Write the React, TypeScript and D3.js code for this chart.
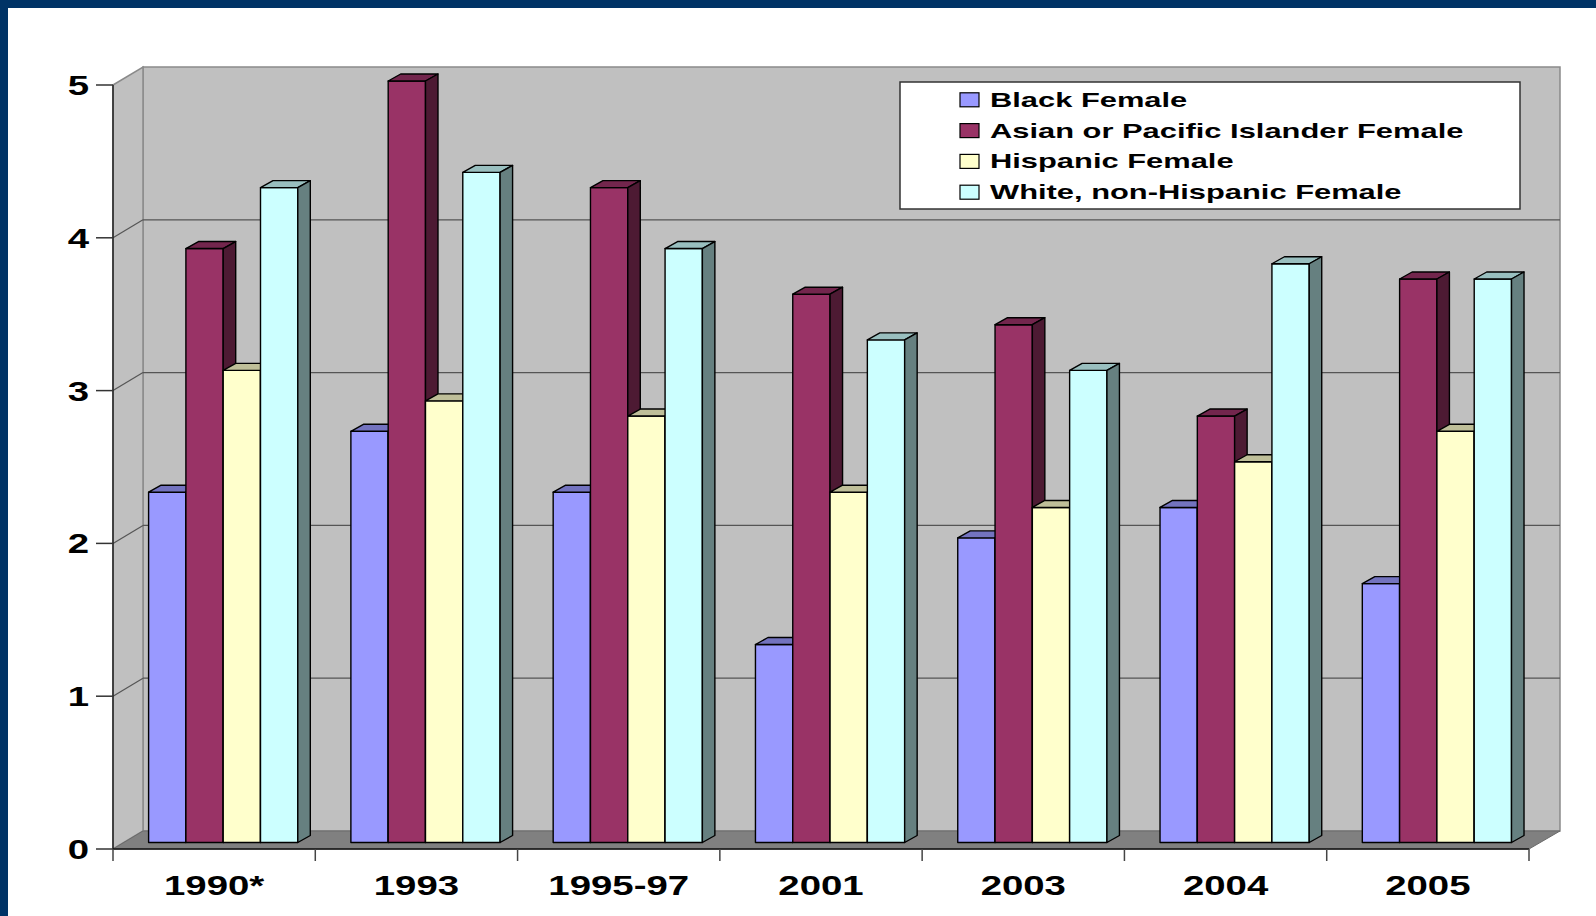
import React from 'react';
import * as d3 from 'd3';

const categories = ['1990*', '1993', '1995-97', '2001', '2003', '2004', '2005'];
const seriesNames = [
  'Black Female',
  'Asian or Pacific Islander Female',
  'Hispanic Female',
  'White, non-Hispanic Female'
];
const blackFemale = [2.3, 2.7, 2.3, 1.3, 2.0, 2.2, 1.7];
const asianFemale = [3.9, 5.0, 4.3, 3.6, 3.4, 2.8, 3.7];
const hispanicFemale = [3.1, 2.9, 2.8, 2.3, 2.2, 2.5, 2.7];
const whiteFemale = [4.3, 4.4, 3.9, 3.3, 3.1, 3.8, 3.7];
const yTicks = [0, 1, 2, 3, 4, 5];

const seriesValues = [blackFemale, asianFemale, hispanicFemale, whiteFemale];
const faceColors = ['#9999FF', '#993366', '#FFFFCC', '#CCFFFF'];

const W = 1596;
const H = 916;
const FONT = '"Liberation Sans", Arial, sans-serif';
const SX = 1.37; // text in the original is stretched horizontally

// plot box (front plane) and wall depth
const left = 113;
const right = 1529;
const floorY = 849;
const topY = 85;
const depthX = 30;
const depthY = -18;
// bars stand a little behind the front plane
const barBase = 842.5;
const barTopAt5 = 81;
const barDx = 12.5;
const barDy = -7;

const darker = (c: string, k: number) => {
  const col = d3.rgb(c);
  return d3.rgb(col.r * k, col.g * k, col.b * k).formatHex();
};

const App: React.FC = () => {
  const y = d3.scaleLinear().domain([0, 5]).range([floorY, topY]);
  const yBar = d3.scaleLinear().domain([0, 5]).range([barBase, barTopAt5]);
  const x = d3.scaleBand<string>().domain(categories).range([left, right]).paddingInner(0);
  const xs = d3.scaleBand<string>().domain(seriesNames).range([35.6, 35.6 + 4 * 37.3]);

  const backL = left + depthX;
  const backR = right + 31;
  const backTop = topY + depthY;
  const backBottom = floorY + depthY;

  const bars: JSX.Element[] = [];
  categories.forEach((cat, ci) => {
    seriesNames.forEach((name, si) => {
      const v = seriesValues[si][ci];
      const x0 = (x(cat) as number) + (xs(name) as number);
      const x1 = x0 + xs.bandwidth();
      const yt = yBar(v);
      const yb = yBar(0);
      const c = faceColors[si];
      bars.push(
        <g key={`${ci}-${si}`} stroke="#000" strokeWidth={1.4} strokeLinejoin="round">
          <rect x={x0} y={yt} width={x1 - x0} height={yb - yt} fill={c} />
          <polygon
            points={`${x0},${yt} ${x0 + barDx},${yt + barDy} ${x1 + barDx},${yt + barDy} ${x1},${yt}`}
            fill={darker(c, 0.75)}
          />
          <polygon
            points={`${x1},${yt} ${x1 + barDx},${yt + barDy} ${x1 + barDx},${yb + barDy} ${x1},${yb}`}
            fill={darker(c, 0.5)}
          />
        </g>
      );
    });
  });

  return (
    <svg
      width={W}
      height={H}
      style={{ position: 'absolute', left: 0, top: 0, background: '#fff' }}
    >
      {/* slide frame */}
      <rect x={0} y={0} width={W} height={8} fill="#003366" />
      <rect x={0} y={0} width={8} height={H} fill="#003366" />

      {/* walls */}
      <rect x={backL} y={backTop} width={backR - backL} height={backBottom - backTop} fill="#C0C0C0" stroke="#8a8a8a" strokeWidth={1.5} />
      <polygon
        points={`${left},${topY} ${backL},${backTop} ${backL},${backBottom} ${left},${floorY}`}
        fill="#C0C0C0"
        stroke="#8a8a8a"
        strokeWidth={1.5}
      />
      <polygon
        points={`${left},${floorY} ${backL},${backBottom} ${backR},${backBottom} ${right},${floorY}`}
        fill="#808080"
        stroke="#6a6a6a"
        strokeWidth={1}
      />

      {/* gridlines */}
      {yTicks.filter(t => t > 0 && t < 5).map(t => (
        <g key={`g${t}`} stroke="#555" strokeWidth={1.2}>
          <line x1={backL} x2={backR} y1={y(t) + depthY} y2={y(t) + depthY} />
          <line x1={left} x2={backL} y1={y(t)} y2={y(t) + depthY} />
        </g>
      ))}

      {bars}

      {/* y axis */}
      <line x1={left} x2={left} y1={topY} y2={floorY} stroke="#222" strokeWidth={1.5} />
      {yTicks.map(t => (
        <g key={`y${t}`}>
          <line x1={96} x2={left} y1={y(t)} y2={y(t)} stroke="#333" strokeWidth={1.5} />
          <text
            transform={`translate(89,${y(t) + 10}) scale(${SX},1)`}
            textAnchor="end"
            fontFamily={FONT}
            fontWeight="bold"
            fontSize={28}
            fill="#000"
          >
            {t}
          </text>
        </g>
      ))}

      {/* x axis */}
      <line x1={left} x2={right} y1={floorY} y2={floorY} stroke="#111" strokeWidth={1.5} />
      {d3.range(categories.length + 1).map(i => {
        const tx = left + i * x.bandwidth();
        return <line key={`xt${i}`} x1={tx} x2={tx} y1={floorY} y2={861} stroke="#444" strokeWidth={1.5} />;
      })}
      {categories.map(cat => (
        <text
          key={`xl${cat}`}
          transform={`translate(${(x(cat) as number) + x.bandwidth() / 2},895) scale(${SX},1)`}
          textAnchor="middle"
          fontFamily={FONT}
          fontWeight="bold"
          fontSize={28}
          fill="#000"
        >
          {cat}
        </text>
      ))}

      {/* legend */}
      <rect x={900} y={82} width={620} height={127} fill="#fff" stroke="#333" strokeWidth={1.5} />
      {seriesNames.map((name, i) => {
        const cy = 99.8 + i * 30.8;
        return (
          <g key={`lg${i}`}>
            <rect x={960} y={cy - 7} width={19} height={14} fill={faceColors[i]} stroke="#000" strokeWidth={1.2} />
            <text
              transform={`translate(990,${cy + 7}) scale(1.47,1)`}
              fontFamily={FONT}
              fontWeight="bold"
              fontSize={21}
              fill="#000"
            >
              {name}
            </text>
          </g>
        );
      })}
    </svg>
  );
};

export default App;
